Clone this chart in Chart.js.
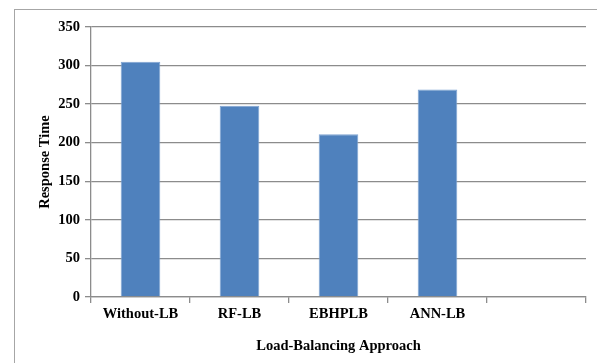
<!DOCTYPE html>
<html>
<head>
<meta charset="utf-8">
<script src="https://cdn.jsdelivr.net/npm/chart.js@4/dist/chart.umd.min.js"></script>
<style>
    html, body { margin: 0; padding: 0; background: #fff; }
    #wrap { position: relative; width: 597px; height: 363px; }
    /* рамка документа зліва і зверху */
    #frame {
        position: absolute; left: 14px; top: 9px; right: -2px; bottom: -2px;
        border-left: 1.5px solid #a6a6a6;
        border-top: 1.5px solid #a6a6a6;
    }
    canvas { position: absolute; left: 0; top: 0; }
</style>
</head>
<body>
<div id="wrap">
    <div id="frame"></div>
    <canvas id="chartResp" width="597" height="363"></canvas>
</div>
<script>
/* ------------------------------------------------------------
   Дані
------------------------------------------------------------ */
const categories = ["Without-LB", "RF-LB", "EBHPLB", "ANN-LB", ""];
const responseTime = [305, 248, 211, 269, null];
const yTicks = [0, 50, 100, 150, 200, 250, 300, 350];

const xTitle = "Load-Balancing Approach";
const yTitle = "Response Time";

/* ------------------------------------------------------------
   Графік
------------------------------------------------------------ */
const font = { family: "'Liberation Serif', 'Times New Roman', serif", size: 14.5, weight: "bold" };
const gridColor = "#8c8c8c";

new Chart(document.getElementById("chartResp"), {
    type: "bar",
    data: {
        labels: categories,
        datasets: [{
            label: yTitle,
            data: responseTime,
            backgroundColor: "#4f81bd",
            borderColor: "#7ea3d2",
            borderWidth: 1,
            barPercentage: 0.4,
            categoryPercentage: 1
        }]
    },
    options: {
        responsive: false,
        animation: false,
        layout: { padding: { left: 37, right: 11, top: 27, bottom: 8 } },
        plugins: {
            legend: { display: false },
            tooltip: { enabled: false }
        },
        scales: {
            x: {
                grid: {
                    offset: true,
                    drawOnChartArea: false,
                    color: gridColor,
                    lineWidth: 1.3,
                    tickLength: 6
                },
                border: { color: gridColor, width: 1.3 },
                ticks: { color: "#000", font: font, padding: 3, maxRotation: 0 },
                title: { display: true, text: xTitle, color: "#000", font: font, padding: { top: 2, bottom: 0 } },
                afterFit: s => { s.height = 58; }
            },
            y: {
                min: 0,
                max: 350,
                afterBuildTicks: s => { s.ticks = yTicks.map(v => ({ value: v })); },
                grid: { color: gridColor, lineWidth: 1.3, tickLength: 6 },
                border: { color: gridColor, width: 1.3 },
                ticks: { color: "#000", font: font, padding: 5 },
                title: { display: true, text: yTitle, color: "#000", font: font, padding: { top: 0, bottom: 4 } },
                afterFit: s => { s.width = 54; }
            }
        }
    }
});
</script>
</body>
</html>
